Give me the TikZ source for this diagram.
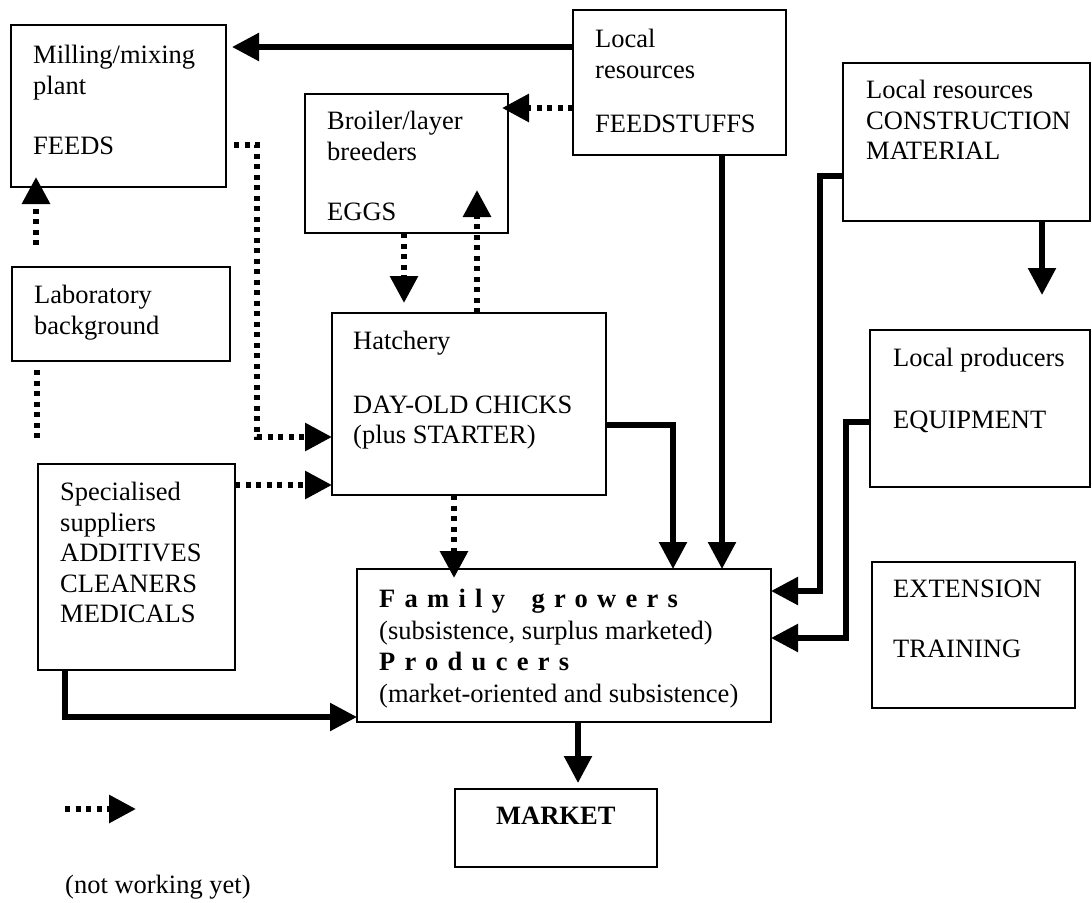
\documentclass[tikz,border=0pt]{standalone}
\usepackage{fontspec}
\setmainfont{Liberation Serif}
\usepackage{tikz}
\usetikzlibrary{arrows.meta}
\tikzset{>={Triangle[length=27pt,width=27pt]}}
\tikzset{
  font={\fontsize{26.5pt}{30.5pt}\selectfont}}
\tikzset{
  box/.style={draw=black, line width=1.8pt, anchor=north west, inner sep=0pt, outer sep=0pt},
  txt/.style={anchor=north west, inner sep=0pt, align=left},
  flow/.style={->, line width=5.5pt},
  weak/.style={->, line width=6pt, dash pattern=on 5pt off 5.5pt},
}
\newcommand{\spaced}[1]{{\bfseries\addfontfeatures{LetterSpace=35}#1}}

\begin{document}
\begin{tikzpicture}[x=1pt, y=-1pt]
     \useasboundingbox (0,0) rectangle (1092,902);

     %% boxes
     \node[box, minimum width=215pt, minimum height=162pt,
       label={[txt, xshift=22pt, yshift=-20pt]north west:{Milling/mixing\\plant\\[30pt]FEEDS}}] (mill) at (11,25) {};
     \node[box, minimum width=203pt, minimum height=139pt,
       label={[txt, xshift=22pt, yshift=-17pt]north west:{Broiler/layer\\breeders\\[30pt]EGGS}}] (broiler) at (305,94) {};
     \node[box, minimum width=213pt, minimum height=145pt,
       label={[txt, xshift=22pt, yshift=-19pt]north west:{Local\\resources\\[24pt]FEEDSTUFFS}}] (feed) at (573,10) {};
     \node[box, minimum width=247pt, minimum height=158pt,
       label={[txt, xshift=23pt, yshift=-17pt]north west:{Local resources\\CONSTRUCTION\\MATERIAL}}] (cons) at (843,63) {};
     \node[box, minimum width=218pt, minimum height=94pt,
       label={[txt, xshift=22pt, yshift=-18pt]north west:{Laboratory\\background}}] (lab) at (12,267) {};
     \node[box, minimum width=274pt, minimum height=182pt,
       label={[txt, xshift=21pt, yshift=-18pt]north west:{Hatchery\\[33pt]DAY-OLD CHICKS\\(plus STARTER)}}] (hatch) at (332,313) {};
     \node[box, minimum width=220pt, minimum height=157pt,
       label={[txt, xshift=23pt, yshift=-18pt]north west:{Local producers\\[31pt]EQUIPMENT}}] (equip) at (870,330) {};
     \node[box, minimum width=197pt, minimum height=206pt,
       label={[txt, xshift=22pt, yshift=-18pt]north west:{Specialised\\suppliers\\ADDITIVES\\CLEANERS\\MEDICALS}}] (spec) at (38,464) {};
     \node[box, minimum width=414pt, minimum height=153pt,
       label={[txt, xshift=22pt, yshift=-20pt]north west:{\spaced{Family\quad growers}\\[1pt](subsistence, surplus marketed)\\[1pt]\spaced{Producers}\\[1pt](market-oriented and subsistence)}}] (fam) at (357,569) {};
     \node[box, minimum width=203pt, minimum height=146pt,
       label={[txt, xshift=21pt, yshift=-18pt]north west:{EXTENSION\\[29.5pt]TRAINING}}] (ext) at (872,562) {};
     \node[box, minimum width=202pt, minimum height=78pt,
       label={[txt, xshift=41pt, yshift=-18pt]north west:{\bfseries MARKET}}] (mark) at (455,789) {};

     %% key
     \coordinate (keyA) at (65,809);
     \coordinate (keyB) at (136,809);
     \node[anchor=base west, inner sep=0pt] (key) at (65,893) {(not working yet)};
     \coordinate (consout) at (1042,295);

     %% working links
     \draw[flow, shorten >=6pt] (feed.west |- 0,47) -- (mill.east |- 0,47);
     \draw[flow] (feed.south -| 722,0) -- (fam.north -| 722,0);
     \draw[flow] (cons.west |- 0,176) -| (820,591) -- (fam.east |- 0,591);
     \draw[flow] (cons.south -| consout) -- (consout);
     \draw[flow] (equip.west |- 0,422) -| (846,638) -- (fam.east |- 0,638);
     \draw[flow] (hatch.east |- 0,425) -| (fam.north -| 673,0);
     \draw[flow] (spec.south -| 65,0) |- (fam.west |- 0,717);
     \draw[flow, shorten >=6pt] (fam.south -| 578,0) -- (mark.north -| 578,0);

     %% not working yet
     \draw[weak, shorten >=-6pt] (feed.west |- 0,108) -- (broiler.east |- 0,108);
     \draw[weak, shorten >=10pt] (broiler.south -| 404,0) -- (hatch.north -| 404,0);
     \draw[weak, shorten >=-43pt] (hatch.north -| 477,0) -- (broiler.south -| 477,0);
     \draw[weak, shorten <=22pt, shorten >=-10pt] (lab.north -| 36,0) -- (mill.south -| 36,0);
     \draw[weak, -, shorten <=9pt, shorten >=22pt] (lab.south -| 37,0) -- (spec.north -| 37,0);
     \draw[weak, shorten <=8pt] (mill.east |- 0,145) -| (257,437) -- (hatch.west |- 0,437);
     \draw[weak] (spec.east |- 0,485) -- (hatch.west |- 0,485);
     \draw[weak, shorten >=-9pt] (hatch.south -| 454,0) -- (fam.north -| 454,0);
     \draw[weak] (keyA) -- (keyB);

\end{tikzpicture}
\end{document}
